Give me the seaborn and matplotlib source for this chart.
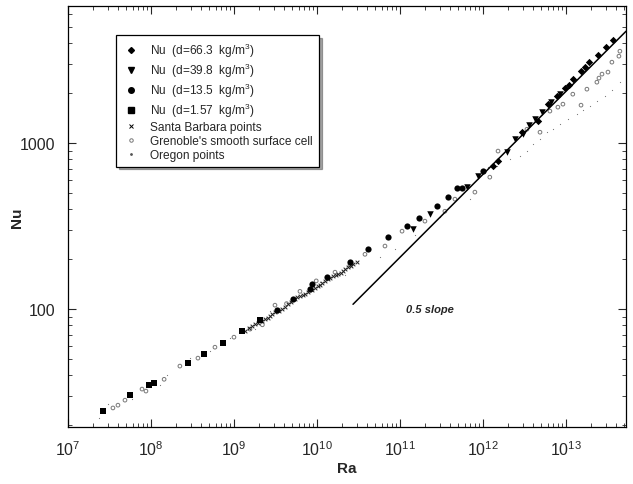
import matplotlib
matplotlib.use('Agg')
import matplotlib.pyplot as plt
from matplotlib.ticker import FuncFormatter, NullFormatter, LogLocator, FixedLocator
from matplotlib.lines import Line2D
import seaborn as sns
import pandas as pd

# d = 66.3 kg/m^3
ra_66 = [2.95e12, 4.6e12, 6.07e12, 7.8e12, 9.73e12, 1.21e13, 1.52e13, 1.89e13, 2.43e13, 3.03e13, 3.68e13,
         1.32e12, 1.52e12, 1.1e13, 1.7e13]
nu_66 = [1164, 1358, 1718, 1920, 2143, 2431, 2716, 3076, 3388, 3787, 4171,
         726, 780, 2250, 2880]

# d = 39.8 kg/m^3
ra_39 = [1.44e11, 2.3e11, 6.41e11, 8.71e11, 1.95e12, 2.43e12, 3.03e12, 3.58e12, 4.23e12, 5.14e12, 6.6e12, 8.47e12]
nu_39 = [303, 373, 543, 632, 883, 1057, 1132, 1283, 1395, 1538, 1767, 1973]

# d = 13.5 kg/m^3
ra_13 = [3.3e9, 5.14e9, 8.24e9, 8.7e9, 1.32e10, 2.5e10, 4.12e10, 7.16e10, 1.21e11, 1.69e11, 2.79e11,
         3.79e11, 4.86e11, 5.58e11, 1.0e12]
nu_13 = [98.6, 115, 132, 142, 156, 192, 230, 271, 316, 353, 417,
         473, 536, 536, 678]

# d = 1.57 kg/m^3
ra_1 = [2.64e7, 5.58e7, 9.46e7, 1.09e8, 2.79e8, 4.35e8, 7.36e8, 1.25e9, 2.05e9]
nu_1 = [24.3, 30.3, 34.8, 35.8, 47.3, 53.5, 62.4, 73.6, 85.9]

# Santa Barbara
ra_sb = [1.36e9, 1.5e9, 1.65e9, 1.8e9, 1.95e9, 2.15e9, 2.36e9, 2.55e9, 2.72e9, 2.9e9, 3.12e9, 3.45e9,
         3.79e9, 4.1e9, 4.47e9, 4.9e9, 5.43e9, 5.8e9, 6.24e9, 6.7e9, 7.17e9, 7.9e9, 8.7e9, 9.5e9,
         1.03e10, 1.1e10, 1.15e10, 1.25e10, 1.36e10, 1.45e10, 1.56e10, 1.68e10, 1.79e10, 1.93e10,
         2.06e10, 2.2e10, 2.36e10, 2.55e10, 2.72e10, 3.03e10]
nu_sb = [73.6, 76.5, 79.1, 81.0, 82.5, 85.0, 87.1, 89.0, 90.8, 93.5, 95.9, 97.8,
         100, 103, 107, 111, 115, 118, 120, 121, 123, 127, 130, 134,
         138, 140, 143, 147, 152, 155, 158, 160, 163, 166,
         170, 174, 179, 183, 187, 192]

# Grenoble smooth surface cell
ra_gr = [3.48e7, 4.0e7, 4.86e7, 7.8e7, 8.7e7, 1.44e8, 2.23e8, 3.68e8, 5.9e8, 1.0e9, 1.56e9,
         2.2e9, 3.12e9, 4.3e9, 6.24e9, 9.8e9, 1.65e10, 2.5e10, 3.79e10, 6.6e10, 1.06e11, 2.0e11,
         3.48e11, 4.6e11, 8.0e11, 1.21e12,
         1.52e12, 3.39e12, 4.87e12, 6.41e12, 8.0e12, 9.2e12, 1.21e13, 1.52e13, 1.79e13, 2.36e13,
         2.5e13, 2.72e13, 3.21e13, 3.58e13, 4.47e13, 4.35e13]
nu_gr = [25.4, 26.4, 28.3, 33, 32.1, 37.8, 45.4, 50.7, 59, 67.8, 75.8,
         80.5, 105.7, 108, 128, 148, 167, 185, 214, 240, 295, 339,
         389, 460, 507, 624,
         896, 1213, 1164, 1560, 1648, 1718, 1973, 1694, 2115, 2330,
         2466, 2606, 2680, 3076, 3581, 3342]

# Oregon
ra_or = [2.36e7, 3.03e7, 5.9e7, 1.28e8, 1.56e8, 2.95e8, 5.14e8, 8.96e8, 1.79e9, 2.72e9, 4.73e9,
         7.5e9, 1.09e10, 2.17e10, 5.74e10, 8.7e10, 1.52e11, 3.03e11, 6.96e11, 1.15e12, 1.48e12, 2.11e12,
         2.79e12, 3.39e12, 4.0e12, 4.87e12, 5.9e12, 6.96e12, 8.47e12, 1.06e13, 1.36e13, 1.6e13,
         1.95e13, 2.36e13, 2.95e13, 3.58e13, 4.47e13]
nu_or = [22, 26.8, 28.7, 34.8, 40, 50.7, 55.8, 66.8, 75.8, 97.3, 110,
         128, 145, 160, 206, 230, 279, 358, 460, 716, 726, 801,
         836, 896, 986, 1057, 1164, 1213, 1300, 1396, 1496, 1582,
         1671, 1791, 1920, 2085, 2330]

# 0.5 slope reference line
slope_ra = [2.72e10, 5.3e13]
slope_nu0 = 107
slope = 0.5

x_ticks = [1e7, 1e8, 1e9, 1e10, 1e11, 1e12, 1e13]
y_ticks = [100, 1000]

sns.set_style('ticks')
plt.rcParams['font.family'] = ['Liberation Sans', 'DejaVu Sans']
plt.rcParams.update({'xtick.direction': 'in', 'ytick.direction': 'in',
                     'xtick.top': True, 'ytick.right': True,
                     'xtick.major.size': 6, 'ytick.major.size': 6,
                     'xtick.minor.size': 3, 'ytick.minor.size': 3,
                     'axes.edgecolor': 'black', 'axes.linewidth': 0.9,
                     'mathtext.default': 'regular'})

fig = plt.figure(figsize=(6.33, 4.85), dpi=100)
ax = fig.add_axes([0.1074, 0.1175, 0.8816, 0.868])

series = [
    (ra_or, nu_or, dict(marker='.', s=3, color='#777777', linewidth=0)),
    (ra_gr, nu_gr, dict(marker='o', s=7, facecolor='none', edgecolor='#777777', linewidth=0.7)),
    (ra_sb, nu_sb, dict(marker='x', s=7, color='#222222', linewidth=0.7)),
    (ra_1, nu_1, dict(marker='s', s=22, color='black', linewidth=0)),
    (ra_13, nu_13, dict(marker='o', s=20, color='black', linewidth=0)),
    (ra_39, nu_39, dict(marker='v', s=22, color='black', linewidth=0)),
    (ra_66, nu_66, dict(marker='D', s=14, color='black', linewidth=0)),
]
for ra, nu, kw in series:
    df = pd.DataFrame({'Ra': ra, 'Nu': nu})
    sns.scatterplot(data=df, x='Ra', y='Nu', ax=ax, legend=False, **kw)

slope_nu = [slope_nu0, slope_nu0 * (slope_ra[1] / slope_ra[0]) ** slope]
ax.plot(slope_ra, slope_nu, color='black', linewidth=1.1)
ax.text(2.3e11, 100, '0.5 slope', fontsize=8, fontweight='bold', fontstyle='italic',
        ha='center', va='center')

ax.set_xscale('log')
ax.set_yscale('log')
ax.set_xlim(1e7, 5.3e13)
ax.set_ylim(19.5, 6700)
ax.xaxis.set_major_locator(FixedLocator(x_ticks))
ax.xaxis.set_minor_locator(LogLocator(base=10, subs=range(2, 10), numticks=100))
ax.xaxis.set_minor_formatter(NullFormatter())
ax.yaxis.set_major_locator(FixedLocator(y_ticks))
ax.yaxis.set_major_formatter(FuncFormatter(lambda v, p: f'{v:g}'))
ax.yaxis.set_minor_formatter(NullFormatter())
ax.tick_params(axis='both', which='major', labelsize=11.5, pad=9)
ax.set_xlabel('Ra', fontsize=11, fontweight='bold', labelpad=2)
ax.set_ylabel('Nu', fontsize=11, fontweight='bold')
ax.yaxis.set_label_coords(-0.078, 0.5)

handles = [
    Line2D([], [], marker='D', markersize=3, color='black', linestyle='none'),
    Line2D([], [], marker='v', markersize=4, color='black', linestyle='none'),
    Line2D([], [], marker='o', markersize=4, color='black', linestyle='none'),
    Line2D([], [], marker='s', markersize=4, color='black', linestyle='none'),
    Line2D([], [], marker='x', markersize=3, color='black', linestyle='none', markeredgewidth=0.7),
    Line2D([], [], marker='o', markersize=2.5, markerfacecolor='none', markeredgecolor='#777777',
           linestyle='none', markeredgewidth=0.7),
    Line2D([], [], marker='.', markersize=2, color='#555555', linestyle='none'),
]
labels = ['Nu  (d=66.3  kg/m$^3$)', 'Nu  (d=39.8  kg/m$^3$)', 'Nu  (d=13.5  kg/m$^3$)',
          'Nu  (d=1.57  kg/m$^3$)', 'Santa Barbara points', "Grenoble's smooth surface cell",
          'Oregon points']
leg = ax.legend(handles, labels, loc='upper left', bbox_to_anchor=(0.075, 0.945),
                fontsize=8.6, frameon=True, fancybox=False, shadow=True, edgecolor='black',
                borderpad=0.5, labelspacing=0.15, handletextpad=0.9, handlelength=1.5,
                framealpha=1)
leg.get_frame().set_linewidth(0.9)

fig.savefig('out.png', dpi=100)
